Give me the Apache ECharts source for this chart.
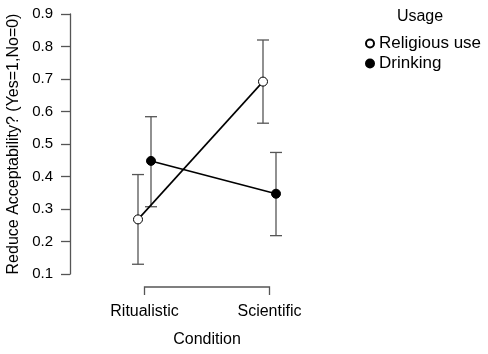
<!DOCTYPE html>
<html>
<head>
<meta charset="utf-8">
<script src="https://cdn.jsdelivr.net/npm/echarts@6/dist/echarts.min.js"></script>
<style>
  html, body { margin: 0; padding: 0; background: #fff; }
  #chart { width: 488px; height: 354px; }
</style>
</head>
<body>
<div id="chart"></div>
<script>
// condition levels on the x axis
const conditions = ['Ritualistic', 'Scientific']
const usageGroups = ['Religious use', 'Drinking']

// means and error bar ends
const religiousMean = [0.268, 0.692]
const religiousLow = [0.130, 0.564]
const religiousHigh = [0.406, 0.820]
const drinkingMean = [0.448, 0.347]
const drinkingLow = [0.307, 0.218]
const drinkingHigh = [0.584, 0.474]

const yMin = 0.1
const yMax = 0.9
const dodge = 0.052
const fontFamily = 'Liberation Sans, Arial, sans-serif'
const axisGrey = '#555555'

const chart = echarts.init(document.getElementById('chart'))

const errorBars = (low, high, shift) => ({
  type: 'custom',
  xAxisIndex: 1,
  z: 2,
  silent: true,
  data: low.map((v, i) => [i + shift, v, high[i]]),
  renderItem: (params, api) => {
    const x = api.value(0)
    const lo = api.coord([x, api.value(1)])
    const hi = api.coord([x, api.value(2)])
    const style = { stroke: axisGrey, lineWidth: 1.3 }
    return {
      type: 'group',
      children: [
        { type: 'line', shape: { x1: lo[0], y1: lo[1], x2: hi[0], y2: hi[1] }, style },
        { type: 'line', shape: { x1: lo[0] - 6, y1: lo[1], x2: lo[0] + 6, y2: lo[1] }, style },
        { type: 'line', shape: { x1: hi[0] - 6, y1: hi[1], x2: hi[0] + 6, y2: hi[1] }, style }
      ]
    }
  }
})

const meanLine = (name, values, shift, fill) => ({
  name,
  type: 'line',
  xAxisIndex: 1,
  z: 3,
  symbol: 'circle',
  symbolSize: 9,
  showSymbol: true,
  lineStyle: { color: '#000', width: 1.6 },
  itemStyle: { color: fill, borderColor: '#000', borderWidth: 1 },
  data: values.map((v, i) => [i + shift, v])
})

chart.setOption({
  animation: false,
  textStyle: { fontFamily },
  grid: { left: 82, width: 250, top: 14, height: 260, containLabel: false, outerBoundsMode: 'none' },
  title: {
    text: 'Usage',
    left: 415,
    top: 4,
    textAlign: 'center',
    textStyle: { fontSize: 16, fontWeight: 'normal', color: '#000', fontFamily }
  },
  legend: {
    orient: 'vertical',
    left: 360,
    top: 30,
    itemGap: 3,
    itemWidth: 8,
    itemHeight: 8,
    icon: 'circle',
    textStyle: { fontSize: 17, color: '#000', fontFamily },
    data: usageGroups
  },
  xAxis: [
    {
      type: 'category',
      data: conditions,
      boundaryGap: true,
      axisLine: { show: false },
      axisTick: { show: false },
      axisLabel: { color: '#000', fontSize: 16, margin: 30 },
      name: 'Condition',
      nameLocation: 'middle',
      nameGap: 58,
      nameTextStyle: { color: '#000', fontSize: 16 }
    },
    { type: 'value', min: -0.5, max: 1.5, show: false }
  ],
  yAxis: {
    type: 'value',
    min: yMin,
    max: yMax,
    interval: 0.1,
    offset: 12,
    splitLine: { show: false },
    axisLine: { show: true, onZero: false, lineStyle: { color: axisGrey, width: 1.3 } },
    axisTick: { show: true, length: 9, lineStyle: { color: axisGrey, width: 1.3 } },
    axisLabel: { color: '#000', fontSize: 15, margin: 17, formatter: v => v.toFixed(1) },
    name: 'Reduce Acceptability? (Yes=1,No=0)',
    nameLocation: 'middle',
    nameGap: 48,
    nameTextStyle: { color: '#000', fontSize: 16 }
  },
  series: [
    // bracket style x axis between the two conditions
    {
      type: 'custom',
      xAxisIndex: 0,
      silent: true,
      clip: false,
      data: [[0, 1]],
      renderItem: (params, api) => {
        const a = api.coord([api.value(0), yMin])
        const b = api.coord([api.value(1), yMin])
        const y = a[1] + 13
        return {
          type: 'polyline',
          shape: { points: [[a[0], y + 8], [a[0], y], [b[0], y], [b[0], y + 8]] },
          style: { stroke: axisGrey, lineWidth: 1.3, fill: null }
        }
      }
    },
    errorBars(religiousLow, religiousHigh, -dodge),
    errorBars(drinkingLow, drinkingHigh, dodge),
    meanLine('Religious use', religiousMean, -dodge, '#ffffff'),
    meanLine('Drinking', drinkingMean, dodge, '#000000')
  ]
})
</script>
</body>
</html>
